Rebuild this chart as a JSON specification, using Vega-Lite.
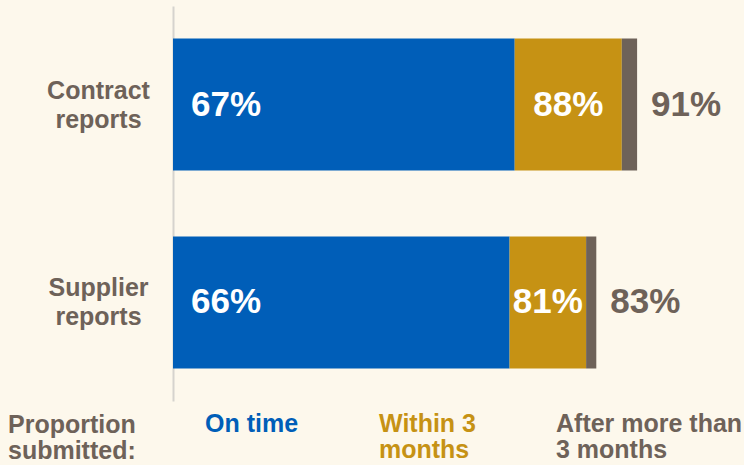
{
  "$schema": "https://vega.github.io/schema/vega-lite/v6.json",
  "width": 510,
  "height": 395,
  "autosize": "none",
  "padding": {"left": 173, "top": 6, "right": 61, "bottom": 64},
  "background": "#FDF8EC",
  "config": {"view": {"stroke": null}, "font": "Liberation Sans"},
  "data": {"values": [
    {"category": "Contract reports", "status": "On time", "seq": 1, "value": 67, "label": "67%"},
    {"category": "Contract reports", "status": "Within 3 months", "seq": 2, "value": 21, "label": "88%"},
    {"category": "Contract reports", "status": "After more than 3 months", "seq": 3, "value": 3, "label": "91%"},
    {"category": "Supplier reports", "status": "On time", "seq": 1, "value": 66, "label": "66%"},
    {"category": "Supplier reports", "status": "Within 3 months", "seq": 2, "value": 15, "label": "81%"},
    {"category": "Supplier reports", "status": "After more than 3 months", "seq": 3, "value": 2, "label": "83%"}
  ]},
  "encoding": {
    "y": {
      "field": "category", "type": "nominal", "sort": null,
      "scale": {"paddingInner": 0.333, "paddingOuter": 0.164},
      "axis": {
        "title": null, "domainColor": "#D6D3CE", "domainWidth": 2, "ticks": false, "grid": false,
        "labelAlign": "center", "labelBaseline": "middle", "labelPadding": 75, "labelOffset": -14,
        "labelFontSize": 25, "labelFontWeight": "bold", "labelColor": "#6E6259",
        "labelLineHeight": 29, "labelLimit": 300,
        "labelExpr": "split(datum.label, ' ')"
      }
    },
    "x": {"field": "value", "type": "quantitative", "stack": "zero", "scale": {"domain": [0, 100]}, "axis": null},
    "order": {"field": "seq", "type": "quantitative"}
  },
  "layer": [
    {
      "mark": {"type": "bar"},
      "encoding": {
        "color": {
          "field": "status", "type": "nominal",
          "scale": {"domain": ["On time", "Within 3 months", "After more than 3 months"], "range": ["#005EB8", "#C69214", "#6E6259"]},
          "legend": {
            "orient": "none", "legendX": -165, "legendY": 384, "direction": "horizontal",
            "title": ["Proportion", "submitted:"], "titleOrient": "left", "titleAlign": "left", "titleBaseline": "top",
            "titleFontSize": 25, "titleFontWeight": "bold", "titleColor": "#6E6259", "titleLineHeight": 26,
            "titlePadding": 44, "titleLimit": 400,
            "labelFontSize": 25, "labelFontWeight": "bold", "labelBaseline": "top", "labelLimit": 400, "labelOffset": 0,
            "symbolSize": 0, "symbolStrokeWidth": 0, "symbolOpacity": 0,
            "gridAlign": "none", "columnPadding": 55, "padding": 0,
            "labelExpr": "datum.label == 'Within 3 months' ? ['Within 3', 'months'] : datum.label == 'After more than 3 months' ? ['After more than', '3 months'] : datum.label",
            "encode": {"labels": {"update": {"fill": {"scale": "color", "field": "value"}, "lineHeight": {"value": 26}, "dy": {"value": 9}}}}
          }
        }
      }
    },
    {
      "transform": [{"filter": "datum.status == 'On time'"}],
      "mark": {"type": "text", "align": "left", "dx": 18, "fontSize": 35, "fontWeight": "bold", "color": "white"},
      "encoding": {
        "x": {"datum": 0, "type": "quantitative"},
        "text": {"field": "label"}
      }
    },
    {
      "mark": {"type": "text", "align": "center", "fontSize": 35, "fontWeight": "bold", "color": "white"},
      "encoding": {
        "x": {"field": "value", "type": "quantitative", "stack": "zero", "bandPosition": 0.5},
        "detail": {"field": "status"},
        "text": {"condition": {"test": "datum.status == 'Within 3 months'", "field": "label"}, "value": ""}
      }
    },
    {
      "mark": {"type": "text", "align": "left", "dx": 14, "fontSize": 35, "fontWeight": "bold", "color": "#6E6259"},
      "encoding": {
        "x": {"field": "value", "type": "quantitative", "stack": "zero"},
        "detail": {"field": "status"},
        "text": {"condition": {"test": "datum.status == 'After more than 3 months'", "field": "label"}, "value": ""}
      }
    }
  ]
}
